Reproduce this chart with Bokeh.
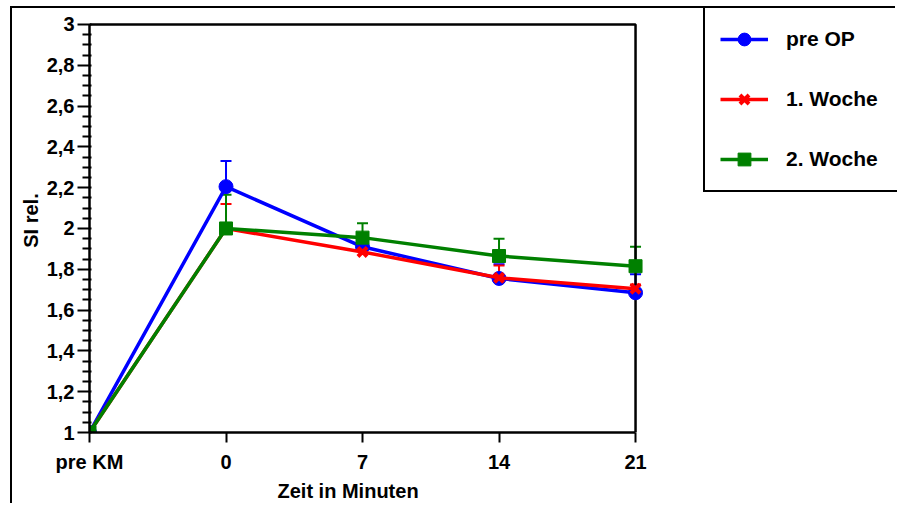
from bokeh.plotting import figure
from bokeh.models import (ColumnDataSource, Range1d, FixedTicker, Legend, LegendItem,
                          Whisker, TeeHead, Title)
from bokeh.embed import file_html
from bokeh.resources import INLINE

# ---------------- data ----------------
CATEGORIES = ["pre KM", "0", "7", "14", "21"]
XPOS = [0, 1, 2, 3, 4]

PRE_OP = [1.0, 2.205, 1.91, 1.755, 1.685]
PRE_OP_ERR = [0.0, 0.125, 0.04, 0.07, 0.09]

WOCHE1 = [1.0, 2.0, 1.885, 1.758, 1.705]
WOCHE1_ERR = [0.0, 0.12, 0.03, 0.06, 0.02]

WOCHE2 = [1.0, 2.0, 1.955, 1.865, 1.815]
WOCHE2_ERR = [0.0, 0.165, 0.07, 0.085, 0.095]

YTICKS = [1.0, 1.2, 1.4, 1.6, 1.8, 2.0, 2.2, 2.4, 2.6, 2.8, 3.0]
YTICK_LABELS = ["1", "1,2", "1,4", "1,6", "1,8", "2", "2,2", "2,4", "2,6", "2,8", "3"]

SERIES = [
    ("pre OP", PRE_OP, PRE_OP_ERR, "#0000FF", "circle", 14),
    ("1. Woche", WOCHE1, WOCHE1_ERR, "#FF0000", "x", 13),
    ("2. Woche", WOCHE2, WOCHE2_ERR, "#008000", "square", 13),
]

FONT = "Liberation Sans"
X_UPPER = 5.919   # frame extends to the right edge (room for the legend)
Y_UPPER = 3.078   # frame extends to the top edge

p = figure(width=885, height=497, output_backend="svg", toolbar_location=None,
           x_range=Range1d(XPOS[0], X_UPPER),
           y_range=Range1d(YTICKS[0], Y_UPPER),
           min_border_left=77, min_border_right=0, min_border_top=0,
           min_border_bottom=73)
p.styles = {"margin-left": "10px", "margin-top": "6px",
            "border-left": "2px solid black", "border-top": "2px solid black"}
p.outline_line_color = None
p.grid.visible = False
p.background_fill_color = "white"
p.border_fill_color = "white"

# axes
xa = p.xaxis[0]
xa.ticker = FixedTicker(ticks=XPOS)
xa.major_label_overrides = {x: c for x, c in zip(XPOS, CATEGORIES)}
xa.bounds = (XPOS[0], XPOS[-1])

ya = p.yaxis[0]
minor = [round(YTICKS[0] + 0.05 * i, 2) for i in range(41) if i % 4 != 0]
ya.ticker = FixedTicker(ticks=YTICKS, minor_ticks=minor)
ya.major_label_overrides = {t: l for t, l in zip(YTICKS, YTICK_LABELS)}
ya.bounds = (YTICKS[0], YTICKS[-1])
ya.axis_label = "SI rel."

for ax in (xa, ya):
    ax.axis_line_width = 2.5
    ax.axis_line_color = "black"
    ax.major_tick_line_width = 2
    ax.major_tick_line_color = "black"
    ax.minor_tick_line_width = 2
    ax.minor_tick_line_color = "black"
    ax.major_label_text_font = FONT
    ax.major_label_text_font_style = "bold"
    ax.major_label_text_font_size = "20px"
    ax.major_label_text_color = "black"
    ax.axis_label_text_font = FONT
    ax.axis_label_text_font_style = "bold"
    ax.axis_label_text_font_size = "20px"
    ax.axis_label_text_color = "black"

xa.major_tick_in = 0
xa.major_tick_out = 10
xa.minor_tick_in = 0
xa.minor_tick_out = 0
xa.major_label_standoff = 8

ya.major_tick_in = 2
ya.major_tick_out = 12
ya.minor_tick_in = 2
ya.minor_tick_out = 7
ya.major_label_standoff = 3
ya.axis_label_standoff = 2

# x axis title, placed under the plot box
xt = Title(text="Zeit in Minuten", align="left", offset=188, standoff=5,
           text_font=FONT, text_font_style="bold", text_font_size="20px",
           text_color="black")
p.add_layout(xt, "below")

# top / right frame lines of the plot box
p.line(x=[XPOS[0], XPOS[-1], XPOS[-1]], y=[YTICKS[-1], YTICKS[-1], YTICKS[0]],
       line_color="black", line_width=2.5)

items = []
for name, vals, errs, color, marker, size in SERIES:
    src = ColumnDataSource(dict(x=XPOS, y=vals))
    lr = p.line("x", "y", source=src, line_color=color, line_width=3.5)
    if marker == "x":
        sr = p.scatter("x", "y", source=src, marker="x", size=size,
                       line_color=color, line_width=4)
    else:
        sr = p.scatter("x", "y", source=src, marker=marker, size=size,
                       fill_color=color, line_color=color)
    items.append(LegendItem(label=name, renderers=[lr, sr]))

for name, vals, errs, color, marker, size in SERIES:
    xs = [x for x, e in zip(XPOS, errs) if e > 0]
    lo = [v for v, e in zip(vals, errs) if e > 0]
    up = [v + e for v, e in zip(vals, errs) if e > 0]
    esrc = ColumnDataSource(dict(x=xs, lower=lo, upper=up))
    w = Whisker(source=esrc, base="x", lower="lower", upper="upper",
                dimension="height", line_color=color, line_width=2,
                upper_head=TeeHead(size=11, line_color=color, line_width=2),
                lower_head=None)
    p.add_layout(w)

legend = Legend(items=items, location=(614, 240), orientation="vertical",
                glyph_width=48, glyph_height=32, label_height=32, label_width=220,
                spacing=28, padding=15, margin=0, label_standoff=18,
                label_text_font=FONT, label_text_font_style="bold",
                label_text_font_size="21px", label_text_color="black",
                border_line_color="black", border_line_width=2,
                border_line_alpha=1.0,
                background_fill_color="white", background_fill_alpha=1)
p.add_layout(legend, "center")

open("out.html", "w").write(file_html(p, INLINE))
